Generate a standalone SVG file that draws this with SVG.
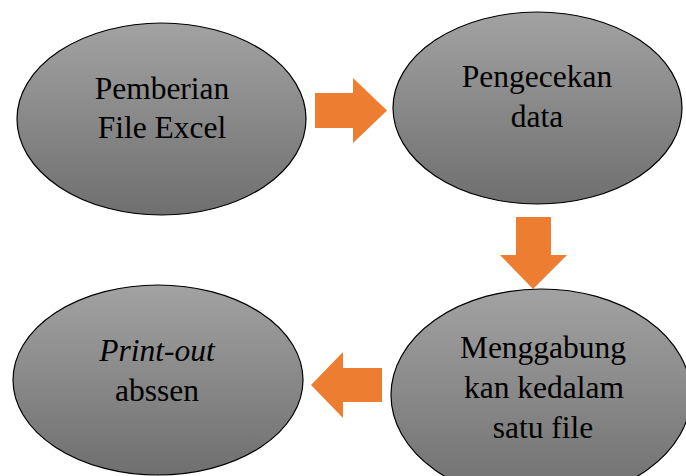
<svg xmlns="http://www.w3.org/2000/svg" width="686" height="476" viewBox="0 0 686 476">
<defs>
<linearGradient id="g" x1="0" y1="0" x2="0" y2="1">
<stop offset="0" stop-color="#a2a2a2"/>
<stop offset="1" stop-color="#6f6f6f"/>
</linearGradient>
</defs>
<style>
.node ellipse{fill:url(#g);stroke:#000;stroke-width:1.2}
.node text{font-family:'Liberation Serif','Times New Roman',Times,'DejaVu Serif','Noto Serif',serif;font-size:31.5px;fill:#000;text-anchor:middle}
.arrow{fill:#ED7D31}
</style>
<rect width="686" height="476" fill="#fff"/>
<g id="connectors">
<polygon class="arrow" points="315,93 353,93 353,78 387,110.5 353,143 353,128 315,128"/>
<polygon class="arrow" points="516,217 551,217 551,255 567,255 533,289 500,255 516,255"/>
<polygon class="arrow" points="382,368 343,368 343,352 311,385 343,418 343,402 382,402"/>
</g>
<g id="n1" class="node">
<ellipse cx="161.5" cy="119" rx="144.5" ry="96"/>
<text x="162" y="99">Pemberian</text>
<text x="162" y="138">File Excel</text>
</g>
<g id="n2" class="node">
<ellipse cx="537.5" cy="108" rx="144.5" ry="96"/>
<text x="537" y="87">Pengecekan</text>
<text x="537" y="127">data</text>
</g>
<g id="n3" class="node">
<ellipse cx="541" cy="395" rx="150" ry="106"/>
<text x="543" y="358">Menggabung</text>
<text x="544" y="398">kan kedalam</text>
<text x="543" y="438">satu file</text>
</g>
<g id="n4" class="node">
<ellipse cx="158" cy="380" rx="145" ry="95"/>
<text x="157" y="361" font-style="italic">Print-out</text>
<text x="157" y="401">abssen</text>
</g>
</svg>
